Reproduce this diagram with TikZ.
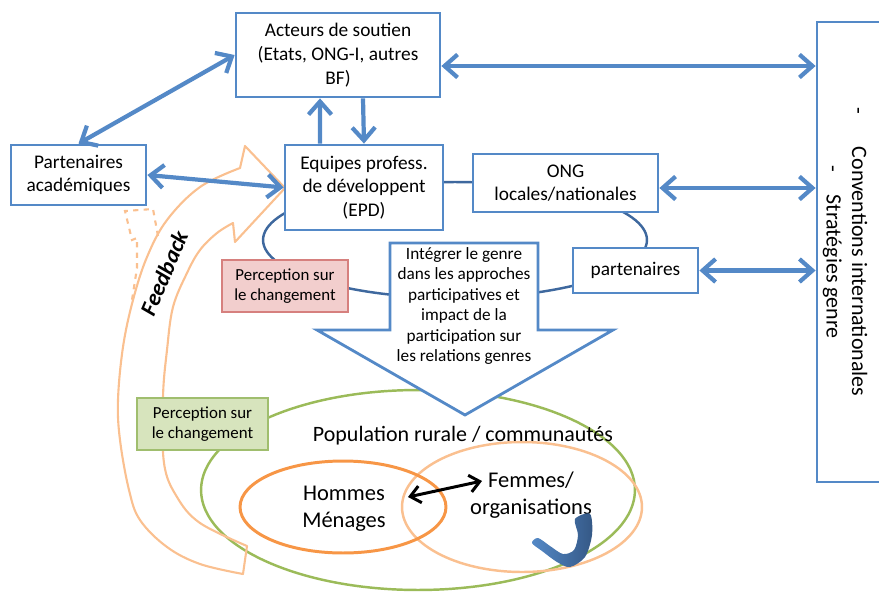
\documentclass[tikz,border=0pt]{standalone}
\usepackage{fontspec}
\setmainfont{Carlito}
\usetikzlibrary{arrows.meta}

\definecolor{boxblue}{RGB}{84,137,199}
\definecolor{loopblue}{RGB}{62,104,158}
\definecolor{peach}{RGB}{250,192,144}
\definecolor{orangeline}{RGB}{247,150,70}
\definecolor{greenline}{RGB}{155,187,89}
\definecolor{redfill}{RGB}{242,206,205}
\definecolor{redline}{RGB}{214,128,126}
\definecolor{greenfill}{RGB}{215,228,189}
\definecolor{greenbox}{RGB}{160,190,110}

\tikzset{
  actor/.style={draw=boxblue, line width=1.6pt, fill=white, align=center, inner sep=1pt, font=\fontsize{11}{13.5}\selectfont},
  percep/.style={line width=1pt, align=center, inner sep=1pt, minimum height=1.04cm, font=\fontsize{9.6}{11.5}\selectfont},
  link/.style={draw=boxblue, line width=2.4pt, >={Straight Barb[length=2.6mm,width=4.6mm]}},
  ring/.style={line width=1.4pt},
}

\begin{document}
\begin{tikzpicture}[x=0.02cm, y=-0.02cm]
  \useasboundingbox (0,0) rectangle (879,592);

  % loop behind the actors
  \draw[loopblue, line width=1.4pt] (455,240) ellipse [x radius=3.84cm, y radius=1.16cm];

  % population
  \draw[ring, greenline] (418,490) ellipse [x radius=4.34cm, y radius=2cm];
  \draw[ring, peach] (522,507) ellipse [x radius=2.4cm, y radius=1.3cm];
  \draw[ring, orangeline, line width=1.7pt] (343,507) ellipse [x radius=2.06cm, y radius=0.92cm];

  % feedback arrow
  \draw[peach, line width=1.2pt, line join=round]
    plot[smooth, tension=0.6] coordinates {(243,574) (200,564) (167,547) (140,520) (129,490) (120,440) (118,400) (123,347) (133,300) (147,257) (167,220) (200,187) (240,168)}
    -- (245,146) -- (285,188) -- (235,242) -- (233,223)
    -- plot[smooth, tension=0.6] coordinates {(233,223) (217,233) (200,250) (187,273) (173,307) (167,350) (163,397) (164,463) (177,497) (200,523) (247,546)}
    -- cycle;
  \draw[peach, line width=1.2pt, dashed] (158,236) -- (153,209) -- (125,211) -- (132,240) -- (137,238) -- (137,268) -- (132,300);
  \node[rotate=67, font=\fontsize{13}{15}\selectfont\bfseries\itshape] (fb) at (164,273) {Feedback};

  % central arrow
  \draw[boxblue, line width=1.6pt, fill=white, line join=miter]
    (390,243) -- (538,243) -- (538,330) -- (613,330) -- (465,415) -- (317,330) -- (390,330) -- cycle;
  \node[align=center, font=\fontsize{9.8}{11.7}\selectfont] (integr) at (464,306) {Intégrer le genre\\dans les approches\\participatives et\\impact de la\\participation sur\\les relations genres};

  \node[actor, minimum width=4.08cm, minimum height=1.68cm] (acteurs) at (338,55) {Acteurs de soutien\\(Etats, ONG-I, autres\\BF)};
  \node[actor, minimum width=2.7cm, minimum height=1.2cm] (acad) at (78.5,175) {Partenaires\\académiques};
  \node[actor, minimum width=3.16cm, minimum height=1.7cm] (epd) at (364,187.5) {Equipes profess.\\de développent\\(EPD)};
  \node[actor, minimum width=3.7cm, minimum height=1.16cm] (ong) at (565.5,183) {ONG\\locales/nationales};
  \node[actor, minimum width=2.5cm, minimum height=0.9cm] (part) at (635.5,270.5) {partenaires};
  \node[actor, minimum width=1.76cm, minimum height=9.2cm] (conv) at (861,252) {};
  \node[rotate=-90, align=center, font=\fontsize{12.5}{14.5}\selectfont] (convtxt) at (845,252) {-\hspace{0.65cm}Conventions internationales\\-\hspace{0.45cm}Stratégies genre};

  \node[percep, draw=redline, fill=redfill, minimum width=2.52cm] (percrouge) at (285,286) {Perception sur\\le changement};
  \node[percep, draw=greenbox, fill=greenfill, minimum width=2.62cm] (percvert) at (202.5,424) {Perception sur\\le changement};

  % links
  \coordinate (a1) at ([yshift=-0.22cm]acteurs.east);
  \coordinate (o1) at ([yshift=-0.1cm]ong.east);
  \draw[link, <->] (acteurs.west) -- (acad.north);
  \draw[link, <->] (a1) -- (a1 -| conv.west);
  \draw[link, ->] ([xshift=-0.88cm]epd.north) -- ([xshift=-0.36cm]acteurs.south);
  \draw[link, ->] ([xshift=0.5cm]acteurs.south) -- (epd.north);
  \draw[link, <->] (acad.east) -- (epd.west);
  \draw[link, <->] (o1) -- (o1 -| conv.west);
  \draw[link, <->] (part.east) -- (part.east -| conv.west);

  % inside the population
  \node[font=\fontsize{12.5}{15}\selectfont] (pop) at (463,436) {Population rurale / communautés};
  \node[align=center, font=\fontsize{12.8}{15.3}\selectfont] (hommes) at (344,509) {Hommes\\Ménages};
  \node[align=center, font=\fontsize{12.8}{15.3}\selectfont] (femmes) at (531,495) {Femmes/\\organisations};
  \coordinate (hm) at (408,497);
  \coordinate (fm) at (482,481);
  \draw[line width=1.7pt, {Straight Barb[length=2mm,width=3.4mm]}-{Straight Barb[length=2mm,width=3.4mm]}] (hm) -- (fm);

  \shade[left color=boxblue, right color=loopblue!85!black]
    plot[smooth cycle, tension=0.5] coordinates {(575,519) (590,514) (592,535) (585,557) (570,567) (557,562) (542,551) (532,543) (538,538) (550,546) (563,554) (574,550) (578,535)};
\end{tikzpicture}
\end{document}
